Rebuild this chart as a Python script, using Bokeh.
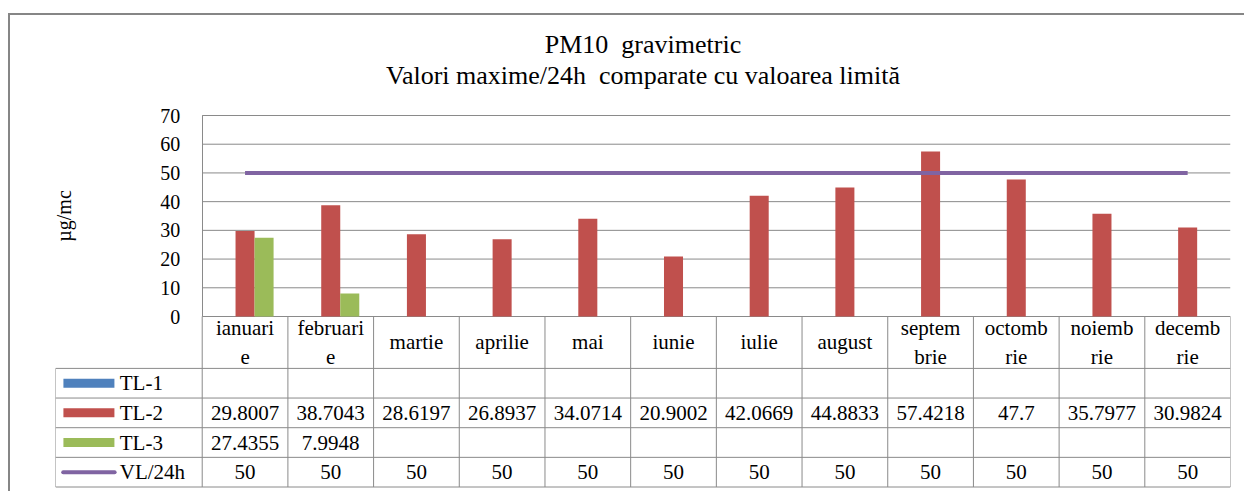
import numpy as np
from bokeh.plotting import figure
from bokeh.models import Range1d, FixedTicker, LinearAxis, Label, Title
from bokeh.core.properties import value
from bokeh.embed import file_html
from bokeh.resources import INLINE

# ---------------- data ----------------
months = ["ianuarie", "februarie", "martie", "aprilie", "mai", "iunie",
          "iulie", "august", "septembrie", "octombrie", "noiembrie", "decembrie"]
header_labels = ["ianuari\ne", "februari\ne", "martie", "aprilie", "mai", "iunie",
                 "iulie", "august", "septem\nbrie", "octomb\nrie", "noiemb\nrie", "decemb\nrie"]
series_names = ["TL-1", "TL-2", "TL-3", "VL/24h"]
tl1 = [None] * 12
tl2 = [29.8007, 38.7043, 28.6197, 26.8937, 34.0714, 20.9002,
       42.0669, 44.8833, 57.4218, 47.7, 35.7977, 30.9824]
tl3 = [27.4355, 7.9948, None, None, None, None, None, None, None, None, None, None]
vl = [50] * 12
y_ticks = [0, 10, 20, 30, 40, 50, 60, 70]
title_line1 = "PM10\u00a0 gravimetric"
title_line2 = "Valori maxime/24h\u00a0 comparate cu valoarea limită"
y_label = "µg/mc"

# ---------------- style / layout ----------------
C_TL1, C_TL2, C_TL3, C_VL = "#4F81BD", "#C0504D", "#9BBB59", "#8064A2"
GRID = "#8a8a8a"
FONT = "'Liberation Serif', 'Times New Roman', serif"
N = len(months)
BAR_W = 0.222
LEG_LEFT = -1.712     # legend column of the data table, in category units
HEADER_H = 1.75       # header row height in table-row units
Y_MAX = 70

# pixel layout (page coordinates)
PX_CANVAS_TOP = 15
PX_FRAME_TOP, PX_TOP, PX_ZERO, PX_TABLE_END, PX_BOTTOM = 89, 115, 316, 486.5, 488

n_rows = len(series_names)
total_h = HEADER_H + n_rows
ppu = (PX_ZERO - PX_TOP) / Y_MAX
y_lo = -(PX_BOTTOM - PX_ZERO) / ppu
y_hi = Y_MAX + (PX_TOP - PX_FRAME_TOP) / ppu
tpu = (PX_TABLE_END - PX_ZERO) / total_h
table_range = Range1d(start=total_h + (PX_BOTTOM - PX_TABLE_END) / tpu,
                      end=-(PX_ZERO - PX_FRAME_TOP) / tpu)


def arr(v):
    return np.array([np.nan if x is None else x for x in v], dtype=float)


def fmt(v):
    if v is None:
        return ""
    return str(int(v)) if float(v).is_integer() else str(v)


centers = np.arange(N) + 0.5

p = figure(width=1236, height=478, output_backend="svg", toolbar_location=None,
           tools="", x_range=Range1d(LEG_LEFT, N), y_range=Range1d(y_lo, y_hi),
           x_axis_location=None, y_axis_location=None, title_location=None,
           min_border_left=45, min_border_right=16,
           min_border_top=PX_FRAME_TOP - PX_CANVAS_TOP,
           min_border_bottom=5, margin=(13, 0, 0, 8),
           styles={"border-top": "2px solid #868686",
                   "border-left": "2px solid #868686"})
p.extra_y_ranges = {"table": table_range}
p.outline_line_color = None
p.grid.visible = False
p.background_fill_color = "white"
p.border_fill_color = "white"

# two-line title (added closest-to-frame first)
for txt in [title_line2, title_line1]:
    p.add_layout(Title(text=txt, align="center", text_font=FONT, text_font_size="26px",
                       text_font_style="normal", text_color="#000000", standoff=0), "above")

# y axis at the left edge of the plot area
ax = LinearAxis(fixed_location=0, bounds=(0, Y_MAX), ticker=FixedTicker(ticks=y_ticks))
ax.major_tick_line_color = None
ax.minor_tick_line_color = None
ax.major_tick_out = 0
ax.major_tick_in = 0
ax.axis_line_color = GRID
ax.major_label_standoff = 22
ax.major_label_text_font = FONT
ax.major_label_text_font_size = "20px"
ax.major_label_text_color = "#000000"
p.add_layout(ax, "left")

# horizontal grid lines of the plot area
p.segment(x0=np.zeros(len(y_ticks)), y0=y_ticks, x1=np.full(len(y_ticks), N), y1=y_ticks,
          line_color=GRID, line_width=1)

# bars and limit line
p.vbar(x=centers - BAR_W, top=arr(tl1), bottom=0, width=BAR_W, fill_color=C_TL1, line_color=None)
p.vbar(x=centers, top=arr(tl2), bottom=0, width=BAR_W, fill_color=C_TL2, line_color=None)
p.vbar(x=centers + BAR_W, top=arr(tl3), bottom=0, width=BAR_W, fill_color=C_TL3, line_color=None)
p.line(x=centers, y=arr(vl), line_color=C_VL, line_width=4)

# y axis title
p.add_layout(Label(x=LEG_LEFT + 0.105, y=Y_MAX / 2, text=y_label, angle=np.pi / 2,
                   text_font=FONT, text_font_size="20px", text_align="center",
                   text_baseline="middle", text_color="#000000"))

# ---------------- data table ----------------
T = dict(y_range_name="table")
bounds = np.arange(N + 1)
p.segment(x0=bounds, y0=np.zeros(N + 1), x1=bounds, y1=np.full(N + 1, total_h),
          line_color=GRID, line_width=1, **T)
p.segment(x0=[LEG_LEFT], y0=[HEADER_H], x1=[LEG_LEFT], y1=[total_h],
          line_color=GRID, line_width=1, **T)
row_lines = HEADER_H + np.arange(n_rows + 1)
p.segment(x0=np.full(n_rows + 1, LEG_LEFT), y0=row_lines,
          x1=np.full(n_rows + 1, N), y1=row_lines, line_color=GRID, line_width=1, **T)

# header: category labels
p.text(x=centers, y=np.full(N, HEADER_H / 2), text=header_labels,
       text_font=value(FONT), text_font_size="21px", text_align="center",
       text_baseline="middle", text_line_height=1.2, text_color="#000000", **T)

# legend column
row_centers = HEADER_H + 0.5 + np.arange(n_rows)
p.rect(x=[LEG_LEFT + 0.39] * 3, y=row_centers[:3], width=51, height=9,
       width_units="screen", height_units="screen",
       fill_color=[C_TL1, C_TL2, C_TL3], line_color=None, **T)
p.segment(x0=[LEG_LEFT + 0.09], y0=[row_centers[3]], x1=[LEG_LEFT + 0.69],
          y1=[row_centers[3]], line_color=C_VL, line_width=4, line_cap="round", **T)
p.text(x=np.full(n_rows, LEG_LEFT + 0.75), y=row_centers, text=series_names,
       text_font=value(FONT), text_font_size="21px", text_align="left",
       text_baseline="middle", text_color="#000000", **T)

# values
for r, series in enumerate([tl1, tl2, tl3, vl]):
    labels = [fmt(v) for v in series]
    p.text(x=centers, y=np.full(N, row_centers[r]), text=labels,
           text_font=value(FONT), text_font_size="21px", text_align="center",
           text_baseline="middle", text_color="#000000", **T)

open("out.html", "w").write(file_html(p, INLINE))
